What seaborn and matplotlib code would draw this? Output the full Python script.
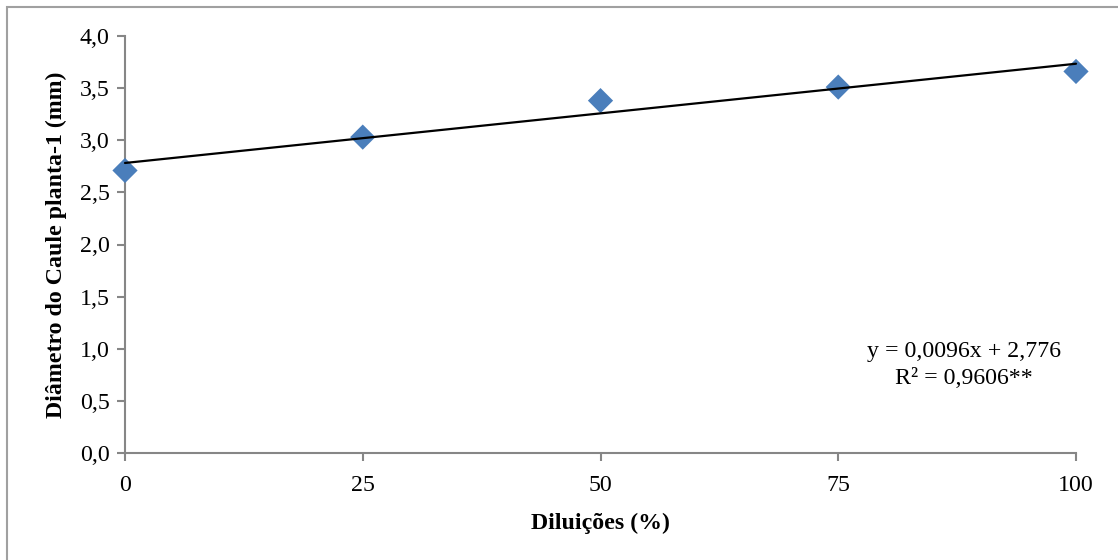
import matplotlib
matplotlib.use("Agg")
import matplotlib.pyplot as plt
import seaborn as sns
import numpy as np
from matplotlib.ticker import FuncFormatter
from matplotlib.patches import Rectangle

# Data
diluicoes = [0, 25, 50, 75, 100]
diametro = [2.71, 3.03, 3.38, 3.51, 3.66]
x_ticks = [0, 25, 50, 75, 100]
y_ticks = [0.0, 0.5, 1.0, 1.5, 2.0, 2.5, 3.0, 3.5, 4.0]
equation_lines = ["y = 0,0096x + 2,776", "R² = 0,9606**"]

sns.set_theme(style="white")
plt.rcParams['font.family'] = ['Liberation Serif', 'DejaVu Serif']
plt.rcParams['text.color'] = 'black'
plt.rcParams['axes.labelcolor'] = 'black'

FS = 17.2

fig = plt.figure(figsize=(11.18, 5.6), dpi=100)
ax = fig.add_axes([125/1118, 107/560, (1076-125)/1118, (453-36)/560])

sns.regplot(x=diluicoes, y=diametro, ax=ax, ci=None, truncate=True,
            marker="D",
            scatter_kws=dict(s=165, color="#4A7EBB", alpha=1, edgecolor="none", clip_on=False, zorder=3),
            line_kws=dict(color="black", lw=1.6, zorder=4, clip_on=False))

ax.set_xlim(0, 100)
ax.set_ylim(0, 4.0)
ax.set_xticks(x_ticks)
ax.set_yticks(y_ticks)
ax.yaxis.set_major_formatter(FuncFormatter(lambda v, p: f"{v:.1f}".replace(".", ",")))
ax.xaxis.set_major_formatter(FuncFormatter(lambda v, p: f"{v:.0f}"))

for s in ["top", "right"]:
    ax.spines[s].set_visible(False)
for s in ["left", "bottom"]:
    ax.spines[s].set_color("#868686")
    ax.spines[s].set_linewidth(1.5)

ax.tick_params(axis="both", direction="out", length=6, width=1.5, color="#868686",
               labelsize=FS, labelcolor="black", left=True, bottom=True)
ax.tick_params(axis="y", pad=5)
ax.tick_params(axis="x", pad=10)

ax.set_xlabel("Diluições (%)", fontsize=FS, fontweight="bold", labelpad=12, color="black")
ax.set_ylabel("Diâmetro do Caule planta-1 (mm)", fontsize=FS, fontweight="bold", labelpad=9, color="black")

ax.text(964/1118, 1 - 352/560, equation_lines[0], transform=fig.transFigure,
        ha="center", va="center", fontsize=FS, color="black")
ax.text(964/1118, 1 - 379/560, equation_lines[1], transform=fig.transFigure,
        ha="center", va="center", fontsize=FS, color="black")

fig.patches.append(Rectangle((7/1118, -0.1), 1.2, 1 - 7/560 + 0.1, transform=fig.transFigure,
                             fill=False, edgecolor="#A0A0A0", lw=1.5))

fig.savefig("out.png", dpi=100)
